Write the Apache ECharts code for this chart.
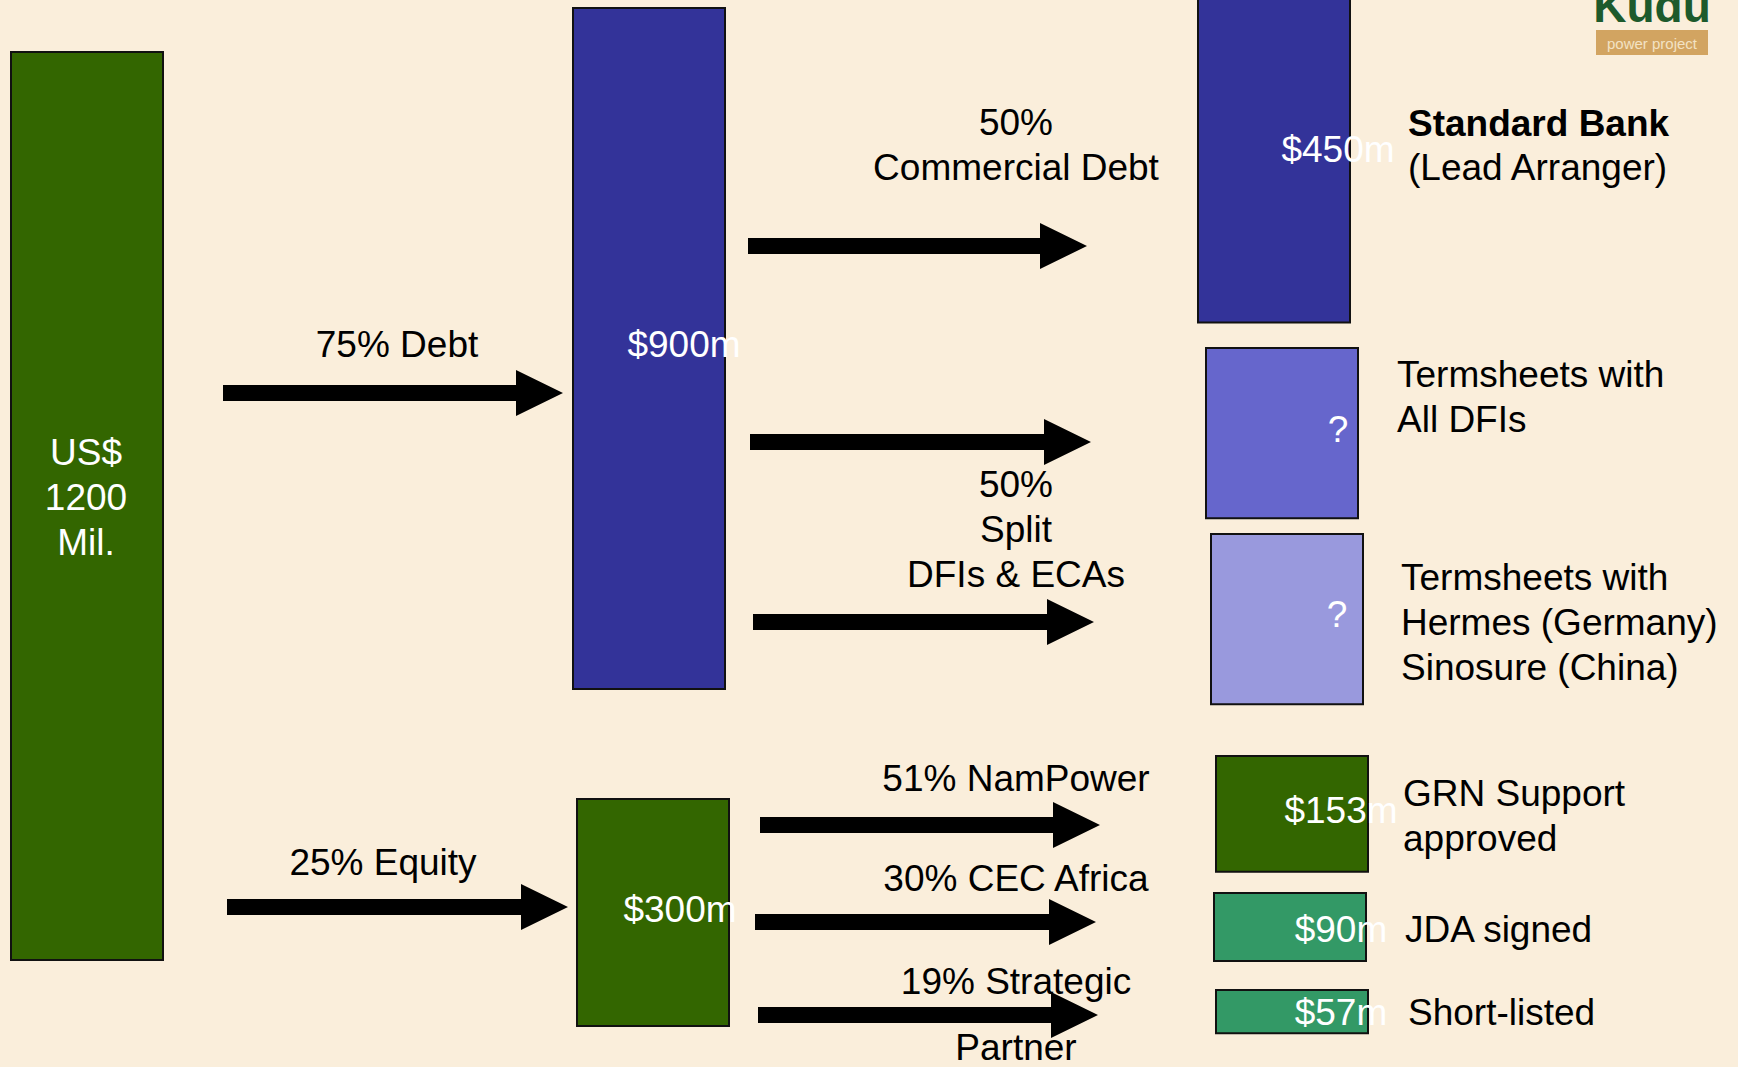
<!DOCTYPE html>
<html>
<head>
<meta charset="utf-8">
<script src="https://cdn.jsdelivr.net/npm/echarts@6/dist/echarts.min.js"></script>
<style>
  html, body { margin: 0; padding: 0; background: #faeedb; }
  #main { width: 1738px; height: 1067px; }
</style>
</head>
<body>
<div id="main"></div>
<script>
// funding blocks, amounts in US$ million
var boxLabels = ['US$\n1200\nMil.', '$900m', '$300m', '$450m', '?', '?', '$153m', '$90m', '$57m'];
var boxValues = [1200, 900, 300, 450, 225, 225, 153, 90, 57];

// flow labels
var flowLabels = ['75% Debt', '25% Equity', '50%\nCommercial Debt', '50%\nSplit\nDFIs & ECAs',
                  '51% NamPower', '30% CEC Africa', '19% Strategic', 'Partner'];

// sources on the right
var sourceLabels = ['(Lead Arranger)', 'Termsheets with\nAll DFIs', 'Termsheets with\nHermes (Germany)\nSinosure (China)',
                    'GRN Support\napproved', 'JDA signed', 'Short-listed'];
var leadBank = 'Standard Bank';

// ---- layout (pixels) ----
var W = 1738, H = 1067;
var PX_PER_M = 1067 / 1410;           // box height per $m
var pxY = function (p) { return p / PX_PER_M; };
var BOX_W = 152;
var boxLeft = [11, 573, 577, 1198, 1206, 1211, 1216, 1214, 1216];
var boxTop = [52, 8, 799, -18, 348, 534, 756, 893, 990];
var boxColor = ['#336600', '#333399', '#336600', '#333399', '#6666cc', '#9999dd', '#336600', '#339966', '#339966'];
var boxLabelPos = [[86, 497], [684, 344], [680, 909], [1338, 149], [1338, 429], [1337, 614], [1341, 810], [1341, 929], [1341, 1012]];

var arrows = [[223, 563, 393], [227, 568, 907], [748, 1087, 246], [750, 1091, 442],
              [753, 1094, 622], [760, 1100, 825], [755, 1096, 922], [758, 1098, 1015]];
var flowPos = [[397, 344], [383, 862], [1016, 145], [1016, 529], [1016, 778], [1016, 878], [1016, 981], [1016, 1047]];
var sourcePos = [[1408, 167], [1397, 397], [1401, 622], [1403, 816], [1405, 929], [1408, 1012]];

var FONT = '"Liberation Sans", Arial, sans-serif';
var FS = 37, LH = 45;

var boxData = boxValues.map(function (v, i) {
    return [boxLeft[i], pxY(boxTop[i]), v, i];
});
var arrowData = arrows.map(function (a, i) { return [a[0], a[1], pxY(a[2]), i]; });

var chart = echarts.init(document.getElementById('main'), null, { renderer: 'svg' });

var textEls = [];
flowLabels.forEach(function (t, i) {
    textEls.push({
        type: 'text', x: flowPos[i][0], y: flowPos[i][1], z: 10,
        style: { text: t, fill: '#000', font: FS + 'px ' + FONT, align: 'center', verticalAlign: 'middle', lineHeight: LH }
    });
});
textEls.push({
    type: 'text', x: 1408, y: 123, z: 10,
    style: { text: leadBank, fill: '#000', font: 'bold ' + FS + 'px ' + FONT, align: 'left', verticalAlign: 'middle' }
});
sourceLabels.forEach(function (t, i) {
    textEls.push({
        type: 'text', x: sourcePos[i][0], y: sourcePos[i][1], z: 10,
        style: { text: t, fill: '#000', font: FS + 'px ' + FONT, align: 'left', verticalAlign: 'middle', lineHeight: LH }
    });
});
// logo
textEls.push({ type: 'rect', shape: { x: 1596, y: 30, width: 112, height: 25 }, style: { fill: '#d2a461' }, z: 5 });
textEls.push({
    type: 'text', x: 1652, y: 43, z: 6,
    style: { text: 'power project', fill: '#f3e2c4', font: '15px ' + FONT, align: 'center', verticalAlign: 'middle' }
});
textEls.push({
    type: 'text', x: 1652, y: 29, z: 6,
    style: { text: 'Kudu', fill: '#1d5a2c', font: 'bold 46px ' + FONT, align: 'center', verticalAlign: 'bottom' }
});

chart.setOption({
    backgroundColor: '#faeedb',
    animation: false,
    grid: { left: 0, right: 0, top: 0, bottom: 0 },
    xAxis: { type: 'value', min: 0, max: W, show: false },
    yAxis: { type: 'value', min: 0, max: 1410, inverse: true, show: false },
    graphic: textEls,
    series: [
        {
            type: 'custom',
            data: boxData,
            z: 2,
            renderItem: function (params, api) {
                var i = api.value(3);
                var p0 = api.coord([api.value(0), api.value(1)]);
                var p1 = api.coord([api.value(0) + BOX_W, api.value(1) + api.value(2)]);
                return {
                    type: 'group',
                    children: [{
                        type: 'rect',
                        shape: { x: p0[0], y: p0[1], width: p1[0] - p0[0], height: p1[1] - p0[1] },
                        style: { fill: boxColor[i], stroke: '#111', lineWidth: 2 }
                    }, {
                        type: 'text',
                        x: boxLabelPos[i][0], y: boxLabelPos[i][1],
                        style: { text: boxLabels[i], fill: '#fff', font: FS + 'px ' + FONT, align: 'center', verticalAlign: 'middle', lineHeight: LH }
                    }]
                };
            }
        },
        {
            type: 'custom',
            data: arrowData,
            z: 3,
            renderItem: function (params, api) {
                var a = api.coord([api.value(0), api.value(2)]);
                var b = api.coord([api.value(1), api.value(2)]);
                var y = a[1], x0 = a[0], x1 = b[0];
                var hl = 47, hh = 23, sh = 8;
                return {
                    type: 'polygon',
                    shape: { points: [[x0, y - sh], [x1 - hl, y - sh], [x1 - hl, y - hh], [x1, y], [x1 - hl, y + hh], [x1 - hl, y + sh], [x0, y + sh]] },
                    style: { fill: '#000' }
                };
            }
        }
    ]
});
</script>
</body>
</html>
